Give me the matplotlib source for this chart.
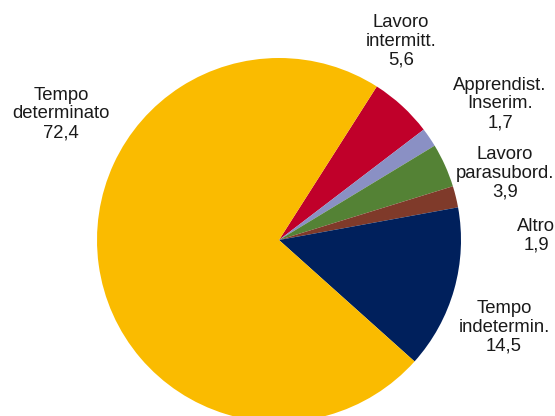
import matplotlib
matplotlib.use("Agg")
import matplotlib.pyplot as plt

categories = ["Lavoro\nintermitt.", "Apprendist.\nInserim.", "Lavoro\nparasubord.",
              "Altro", "Tempo\nindetermin.", "Tempo\ndeterminato"]
values = [5.6, 1.7, 3.9, 1.9, 14.5, 72.4]
value_labels = ["5,6", "1,7", "3,9", "1,9", "14,5", "72,4"]
colors = ["#C0002A", "#8A90C4", "#548235", "#7F3A2A", "#00205C", "#FABB00"]
label_pos = [(401, 41), (500, 104), (505, 173), (536, 236), (504, 327), (61, 114)]

W, H = 555, 416
fig = plt.figure(figsize=(W / 100, H / 100), dpi=100)
ax = fig.add_axes([0, 0, 1, 1])
ax.set_xlim(0, W)
ax.set_ylim(0, H)
ax.set_aspect("equal")
ax.axis("off")

ax.pie(values, colors=colors, startangle=57.5, counterclock=False,
       center=(279, H - 240), radius=182, frame=True,
       wedgeprops=dict(linewidth=0))
ax.set_xlim(0, W)
ax.set_ylim(0, H)
ax.axis("off")

for cat, val, (x, y) in zip(categories, value_labels, label_pos):
    ax.text(x, H - y, f"{cat}\n{val}", ha="center", va="center",
            multialignment="center", fontsize=13.3, family="Liberation Sans",
            linespacing=1.12, color="#1a1a1a")

fig.savefig("out.png", dpi=100)
